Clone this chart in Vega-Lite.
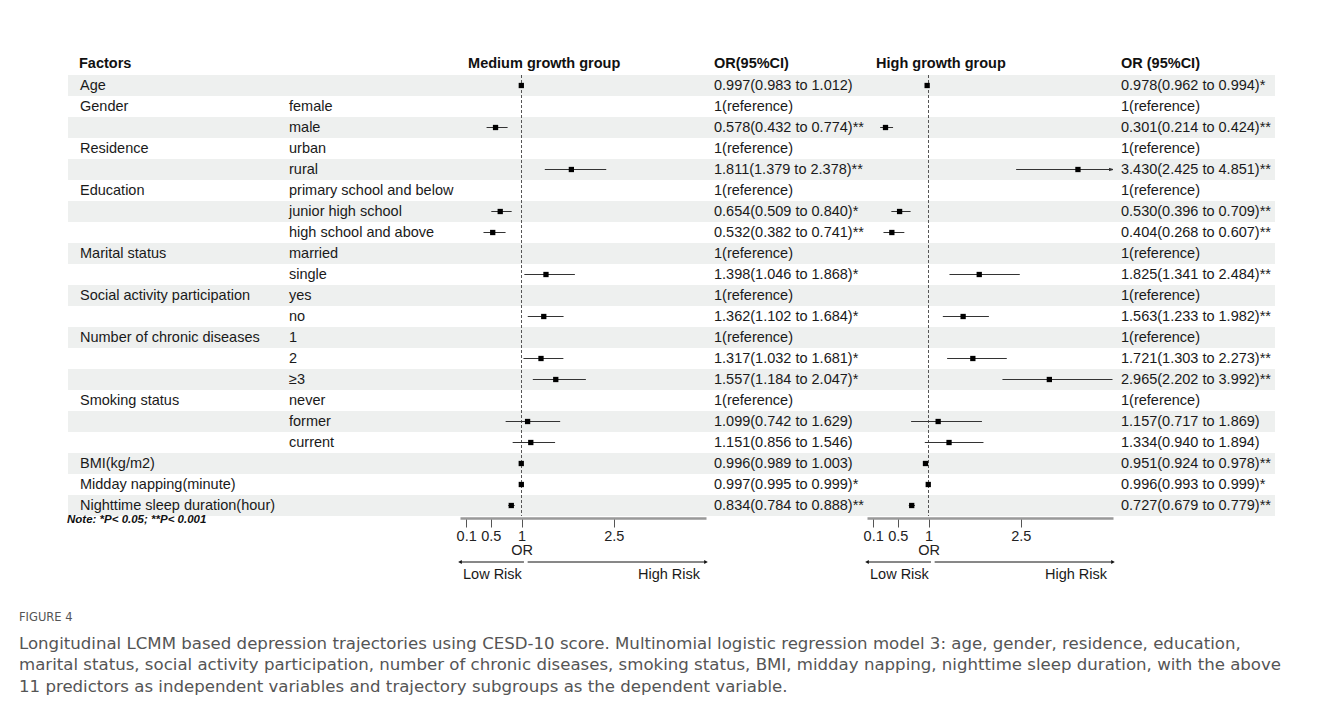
{
  "$schema": "https://vega.github.io/schema/vega-lite/v6.json",
  "background": "white",
  "padding": {"left": 19, "top": 55, "right": 5, "bottom": 5},
  "bounds": "flush",
  "spacing": 0,
  "config": {
    "view": {"stroke": null},
    "font": "Liberation Sans",
    "title": {"font": "Liberation Sans", "fontSize": 14.5, "fontWeight": "bold", "color": "#111", "anchor": "start", "baseline": "alphabetic", "offset": 3.5}
  },
  "title": {
    "text": "FIGURE 4",
    "subtitle": [
      "Longitudinal LCMM based depression trajectories using CESD-10 score. Multinomial logistic regression model 3: age, gender, residence, education,",
      "marital status, social activity participation, number of chronic diseases, smoking status, BMI, midday napping, nighttime sleep duration, with the above",
      "11 predictors as independent variables and trajectory subgroups as the dependent variable."
    ],
    "orient": "bottom",
    "anchor": "start",
    "frame": "group",
    "dx": -49,
    "offset": 31,
    "font": "DejaVu Sans",
    "fontSize": 11.5,
    "fontWeight": "normal",
    "color": "#555",
    "baseline": "top",
    "subtitleFont": "DejaVu Sans",
    "subtitleFontSize": 16.6,
    "subtitleColor": "#555",
    "subtitleLineHeight": 21.8,
    "subtitlePadding": 12
  },
  "datasets": {
    "rows": [
      {"row": 1, "factor": "Age", "sub": "", "m_or": 0.997, "m_lo": 0.983, "m_hi": 1.012, "m_txt": "0.997(0.983 to 1.012)", "h_or": 0.978, "h_lo": 0.962, "h_hi": 0.994, "h_txt": "0.978(0.962 to 0.994)*"},
      {"row": 2, "factor": "Gender", "sub": "female", "m_txt": "1(reference)", "h_txt": "1(reference)"},
      {"row": 3, "factor": "", "sub": "male", "m_or": 0.578, "m_lo": 0.432, "m_hi": 0.774, "m_txt": "0.578(0.432 to 0.774)**", "h_or": 0.301, "h_lo": 0.214, "h_hi": 0.424, "h_txt": "0.301(0.214 to 0.424)**"},
      {"row": 4, "factor": "Residence", "sub": "urban", "m_txt": "1(reference)", "h_txt": "1(reference)"},
      {"row": 5, "factor": "", "sub": "rural", "m_or": 1.811, "m_lo": 1.379, "m_hi": 2.378, "m_txt": "1.811(1.379 to 2.378)**", "h_or": 3.43, "h_lo": 2.425, "h_hi": 4.851, "h_txt": "3.430(2.425 to 4.851)**"},
      {"row": 6, "factor": "Education", "sub": "primary school and below", "m_txt": "1(reference)", "h_txt": "1(reference)"},
      {"row": 7, "factor": "", "sub": "junior high school", "m_or": 0.654, "m_lo": 0.509, "m_hi": 0.84, "m_txt": "0.654(0.509 to 0.840)*", "h_or": 0.53, "h_lo": 0.396, "h_hi": 0.709, "h_txt": "0.530(0.396 to 0.709)**"},
      {"row": 8, "factor": "", "sub": "high school and above", "m_or": 0.532, "m_lo": 0.382, "m_hi": 0.741, "m_txt": "0.532(0.382 to 0.741)**", "h_or": 0.404, "h_lo": 0.268, "h_hi": 0.607, "h_txt": "0.404(0.268 to 0.607)**"},
      {"row": 9, "factor": "Marital status", "sub": "married", "m_txt": "1(reference)", "h_txt": "1(reference)"},
      {"row": 10, "factor": "", "sub": "single", "m_or": 1.398, "m_lo": 1.046, "m_hi": 1.868, "m_txt": "1.398(1.046 to 1.868)*", "h_or": 1.825, "h_lo": 1.341, "h_hi": 2.484, "h_txt": "1.825(1.341 to 2.484)**"},
      {"row": 11, "factor": "Social activity participation", "sub": "yes", "m_txt": "1(reference)", "h_txt": "1(reference)"},
      {"row": 12, "factor": "", "sub": "no", "m_or": 1.362, "m_lo": 1.102, "m_hi": 1.684, "m_txt": "1.362(1.102 to 1.684)*", "h_or": 1.563, "h_lo": 1.233, "h_hi": 1.982, "h_txt": "1.563(1.233 to 1.982)**"},
      {"row": 13, "factor": "Number of chronic diseases", "sub": "1", "m_txt": "1(reference)", "h_txt": "1(reference)"},
      {"row": 14, "factor": "", "sub": "2", "m_or": 1.317, "m_lo": 1.032, "m_hi": 1.681, "m_txt": "1.317(1.032 to 1.681)*", "h_or": 1.721, "h_lo": 1.303, "h_hi": 2.273, "h_txt": "1.721(1.303 to 2.273)**"},
      {"row": 15, "factor": "", "sub": "≥3", "m_or": 1.557, "m_lo": 1.184, "m_hi": 2.047, "m_txt": "1.557(1.184 to 2.047)*", "h_or": 2.965, "h_lo": 2.202, "h_hi": 3.992, "h_txt": "2.965(2.202 to 3.992)**"},
      {"row": 16, "factor": "Smoking status", "sub": "never", "m_txt": "1(reference)", "h_txt": "1(reference)"},
      {"row": 17, "factor": "", "sub": "former", "m_or": 1.099, "m_lo": 0.742, "m_hi": 1.629, "m_txt": "1.099(0.742 to 1.629)", "h_or": 1.157, "h_lo": 0.717, "h_hi": 1.869, "h_txt": "1.157(0.717 to 1.869)"},
      {"row": 18, "factor": "", "sub": "current", "m_or": 1.151, "m_lo": 0.856, "m_hi": 1.546, "m_txt": "1.151(0.856 to 1.546)", "h_or": 1.334, "h_lo": 0.94, "h_hi": 1.894, "h_txt": "1.334(0.940 to 1.894)"},
      {"row": 19, "factor": "BMI(kg/m2)", "sub": "", "m_or": 0.996, "m_lo": 0.989, "m_hi": 1.003, "m_txt": "0.996(0.989 to 1.003)", "h_or": 0.951, "h_lo": 0.924, "h_hi": 0.978, "h_txt": "0.951(0.924 to 0.978)**"},
      {"row": 20, "factor": "Midday napping(minute)", "sub": "", "m_or": 0.997, "m_lo": 0.995, "m_hi": 0.999, "m_txt": "0.997(0.995 to 0.999)*", "h_or": 0.996, "h_lo": 0.993, "h_hi": 0.999, "h_txt": "0.996(0.993 to 0.999)*"},
      {"row": 21, "factor": "Nighttime sleep duration(hour)", "sub": "", "m_or": 0.834, "m_lo": 0.784, "m_hi": 0.888, "m_txt": "0.834(0.784 to 0.888)**", "h_or": 0.727, "h_lo": 0.679, "h_hi": 0.779, "h_txt": "0.727(0.679 to 0.779)**"}
    ]
  },
  "hconcat": [
    {
      "width": 215, "height": 441,
      "title": {"text": "Factors", "dx": 12},
      "data": {"name": "rows"},
      "encoding": {"y": {"field": "row", "type": "ordinal", "scale": {"domain": [1,2,3,4,5,6,7,8,9,10,11,12,13,14,15,16,17,18,19,20,21], "paddingInner": 0, "paddingOuter": 0}, "axis": null}},
      "layer": [
        {"transform": [{"filter": "datum.row % 2 == 1"}], "mark": {"type": "rect", "color": "#eef0ef"}, "encoding": {"x": {"value": 0}, "x2": {"value": "width"}}},
        {"mark": {"type": "text", "align": "left", "baseline": "middle", "dx": 12, "fontSize": 14.5, "color": "#1a1a1a"}, "encoding": {"x": {"value": 0}, "text": {"field": "factor"}}},
        {"data": {"values": [{"note": "Note: *P< 0.05; **P< 0.001"}]}, "mark": {"type": "text", "align": "left", "baseline": "middle", "dx": -1, "dy": 4, "fontSize": 11.5, "fontWeight": "bold", "fontStyle": "italic", "color": "#111"}, "encoding": {"x": {"value": 0}, "y": {"value": "height"}, "text": {"field": "note"}}}
      ]
    },
    {
      "width": 177, "height": 441,
      "data": {"name": "rows"},
      "encoding": {"y": {"field": "row", "type": "ordinal", "scale": {"domain": [1,2,3,4,5,6,7,8,9,10,11,12,13,14,15,16,17,18,19,20,21], "paddingInner": 0, "paddingOuter": 0}, "axis": null}},
      "layer": [
        {"transform": [{"filter": "datum.row % 2 == 1"}], "mark": {"type": "rect", "color": "#eef0ef"}, "encoding": {"x": {"value": 0}, "x2": {"value": "width"}}},
        {"mark": {"type": "text", "align": "left", "baseline": "middle", "dx": 6, "fontSize": 14.5, "color": "#1a1a1a"}, "encoding": {"x": {"value": 0}, "text": {"field": "sub"}}}
      ]
    },
    {
      "width": 246, "height": 441,
      "title": {"text": "Medium growth group", "dx": 12},
      "data": {"name": "rows"},
      "encoding": {"y": {"field": "row", "type": "ordinal", "scale": {"domain": [1,2,3,4,5,6,7,8,9,10,11,12,13,14,15,16,17,18,19,20,21], "paddingInner": 0, "paddingOuter": 0}, "axis": null}},
      "layer": [
        {"transform": [{"filter": "datum.row % 2 == 1"}], "mark": {"type": "rect", "color": "#eef0ef"}, "encoding": {"x": {"value": 0}, "x2": {"value": "width"}}},
        {"data": {"values": [{}]}, "mark": {"type": "rule", "color": "#555", "strokeDash": [3, 2], "strokeWidth": 1}, "encoding": {"y": null, "x": {"datum": 1, "type": "quantitative"}}},
        {"mark": {"type": "rule", "color": "#333", "strokeWidth": 1}, "encoding": {
          "x": {"field": "m_lo", "type": "quantitative", "scale": {"domain": [0, 4], "clamp": true, "nice": false, "zero": false},
            "axis": {"values": [0.1, 0.5, 1, 2.5], "format": "~g", "title": "OR", "grid": false, "offset": 2, "domainColor": "#999", "domainWidth": 2.5, "tickColor": "#555", "tickSize": 9, "labelFont": "Liberation Sans", "labelFontSize": 14.5, "labelColor": "#222", "labelPadding": 2, "labelFlush": false, "labelOverlap": false, "labelBound": false, "titleFont": "Liberation Sans", "titleFontWeight": "normal", "titleFontSize": 14.5, "titleColor": "#222", "titlePadding": 1, "titleX": 61.5}},
          "x2": {"field": "m_hi"}}},
        {"mark": {"type": "square", "color": "black", "size": 28, "opacity": 1}, "encoding": {"x": {"field": "m_or", "type": "quantitative"}}},
        {"data": {"values": [{}]}, "mark": {"type": "rule", "color": "#111", "strokeWidth": 1, "yOffset": 46, "y2Offset": 46}, "encoding": {"y": {"value": "height"}, "x": {"datum": 1.04, "type": "quantitative"}, "x2": {"datum": 0}}},
        {"data": {"values": [{}]}, "mark": {"type": "rule", "color": "#111", "strokeWidth": 1, "yOffset": 46, "y2Offset": 46}, "encoding": {"y": {"value": "height"}, "x": {"datum": 1.1, "type": "quantitative"}, "x2": {"datum": 4}}},
        {"data": {"values": [{}]}, "mark": {"type": "point", "shape": "triangle-left", "filled": true, "color": "#111", "size": 18, "opacity": 1, "yOffset": 46}, "encoding": {"y": {"value": "height"}, "x": {"datum": 0, "type": "quantitative"}}},
        {"data": {"values": [{}]}, "mark": {"type": "point", "shape": "triangle-right", "filled": true, "color": "#111", "size": 18, "opacity": 1, "yOffset": 46}, "encoding": {"y": {"value": "height"}, "x": {"datum": 4, "type": "quantitative"}}},
        {"data": {"values": [{"t": "Low Risk"}]}, "mark": {"type": "text", "align": "left", "baseline": "middle", "dx": 3, "dy": 58.5, "fontSize": 14.5, "color": "#1a1a1a"}, "encoding": {"y": {"value": "height"}, "x": {"datum": 0, "type": "quantitative"}, "text": {"field": "t"}}},
        {"data": {"values": [{"t": "High Risk"}]}, "mark": {"type": "text", "align": "right", "baseline": "middle", "dx": -6, "dy": 58.5, "fontSize": 14.5, "color": "#1a1a1a"}, "encoding": {"y": {"value": "height"}, "x": {"datum": 4, "type": "quantitative"}, "text": {"field": "t"}}}
      ]
    },
    {
      "width": 161, "height": 441,
      "title": {"text": "OR(95%CI)", "dx": 8},
      "data": {"name": "rows"},
      "encoding": {"y": {"field": "row", "type": "ordinal", "scale": {"domain": [1,2,3,4,5,6,7,8,9,10,11,12,13,14,15,16,17,18,19,20,21], "paddingInner": 0, "paddingOuter": 0}, "axis": null}},
      "layer": [
        {"transform": [{"filter": "datum.row % 2 == 1"}], "mark": {"type": "rect", "color": "#eef0ef"}, "encoding": {"x": {"value": 0}, "x2": {"value": "width"}}},
        {"mark": {"type": "text", "align": "left", "baseline": "middle", "dx": 8, "fontSize": 14.5, "color": "#1a1a1a"}, "encoding": {"x": {"value": 0}, "text": {"field": "m_txt"}}}
      ]
    },
    {
      "width": 246, "height": 441,
      "title": {"text": "High growth group", "dx": 13},
      "data": {"name": "rows"},
      "encoding": {"y": {"field": "row", "type": "ordinal", "scale": {"domain": [1,2,3,4,5,6,7,8,9,10,11,12,13,14,15,16,17,18,19,20,21], "paddingInner": 0, "paddingOuter": 0}, "axis": null}},
      "layer": [
        {"transform": [{"filter": "datum.row % 2 == 1"}], "mark": {"type": "rect", "color": "#eef0ef"}, "encoding": {"x": {"value": 0}, "x2": {"value": "width"}}},
        {"data": {"values": [{}]}, "mark": {"type": "rule", "color": "#555", "strokeDash": [3, 2], "strokeWidth": 1}, "encoding": {"y": null, "x": {"datum": 1, "type": "quantitative"}}},
        {"mark": {"type": "rule", "color": "#333", "strokeWidth": 1}, "encoding": {
          "x": {"field": "h_lo", "type": "quantitative", "scale": {"domain": [0, 4], "clamp": true, "nice": false, "zero": false},
            "axis": {"values": [0.1, 0.5, 1, 2.5], "format": "~g", "title": "OR", "grid": false, "offset": 2, "domainColor": "#999", "domainWidth": 2.5, "tickColor": "#555", "tickSize": 9, "labelFont": "Liberation Sans", "labelFontSize": 14.5, "labelColor": "#222", "labelPadding": 2, "labelFlush": false, "labelOverlap": false, "labelBound": false, "titleFont": "Liberation Sans", "titleFontWeight": "normal", "titleFontSize": 14.5, "titleColor": "#222", "titlePadding": 1, "titleX": 61.5}},
          "x2": {"field": "h_hi"}}},
        {"transform": [{"filter": "datum.h_hi > 4"}], "mark": {"type": "point", "shape": "M-1,-0.3L0,0L-1,0.3", "filled": false, "color": "#333", "strokeWidth": 1, "size": 64, "opacity": 1}, "encoding": {"x": {"field": "h_hi", "type": "quantitative"}}},
        {"mark": {"type": "square", "color": "black", "size": 28, "opacity": 1}, "encoding": {"x": {"field": "h_or", "type": "quantitative"}}},
        {"data": {"values": [{}]}, "mark": {"type": "rule", "color": "#111", "strokeWidth": 1, "yOffset": 46, "y2Offset": 46}, "encoding": {"y": {"value": "height"}, "x": {"datum": 1.04, "type": "quantitative"}, "x2": {"datum": 0}}},
        {"data": {"values": [{}]}, "mark": {"type": "rule", "color": "#111", "strokeWidth": 1, "yOffset": 46, "y2Offset": 46}, "encoding": {"y": {"value": "height"}, "x": {"datum": 1.1, "type": "quantitative"}, "x2": {"datum": 4}}},
        {"data": {"values": [{}]}, "mark": {"type": "point", "shape": "triangle-left", "filled": true, "color": "#111", "size": 18, "opacity": 1, "yOffset": 46}, "encoding": {"y": {"value": "height"}, "x": {"datum": 0, "type": "quantitative"}}},
        {"data": {"values": [{}]}, "mark": {"type": "point", "shape": "triangle-right", "filled": true, "color": "#111", "size": 18, "opacity": 1, "yOffset": 46}, "encoding": {"y": {"value": "height"}, "x": {"datum": 4, "type": "quantitative"}}},
        {"data": {"values": [{"t": "Low Risk"}]}, "mark": {"type": "text", "align": "left", "baseline": "middle", "dx": 3, "dy": 58.5, "fontSize": 14.5, "color": "#1a1a1a"}, "encoding": {"y": {"value": "height"}, "x": {"datum": 0, "type": "quantitative"}, "text": {"field": "t"}}},
        {"data": {"values": [{"t": "High Risk"}]}, "mark": {"type": "text", "align": "right", "baseline": "middle", "dx": -6, "dy": 58.5, "fontSize": 14.5, "color": "#1a1a1a"}, "encoding": {"y": {"value": "height"}, "x": {"datum": 4, "type": "quantitative"}, "text": {"field": "t"}}}
      ]
    },
    {
      "width": 162, "height": 441,
      "title": {"text": "OR (95%CI)", "dx": 8},
      "data": {"name": "rows"},
      "encoding": {"y": {"field": "row", "type": "ordinal", "scale": {"domain": [1,2,3,4,5,6,7,8,9,10,11,12,13,14,15,16,17,18,19,20,21], "paddingInner": 0, "paddingOuter": 0}, "axis": null}},
      "layer": [
        {"transform": [{"filter": "datum.row % 2 == 1"}], "mark": {"type": "rect", "color": "#eef0ef"}, "encoding": {"x": {"value": 0}, "x2": {"value": "width"}}},
        {"mark": {"type": "text", "align": "left", "baseline": "middle", "dx": 8, "fontSize": 14.5, "color": "#1a1a1a"}, "encoding": {"x": {"value": 0}, "text": {"field": "h_txt"}}}
      ]
    }
  ],
  "resolve": {"scale": {"x": "independent"}}
}
